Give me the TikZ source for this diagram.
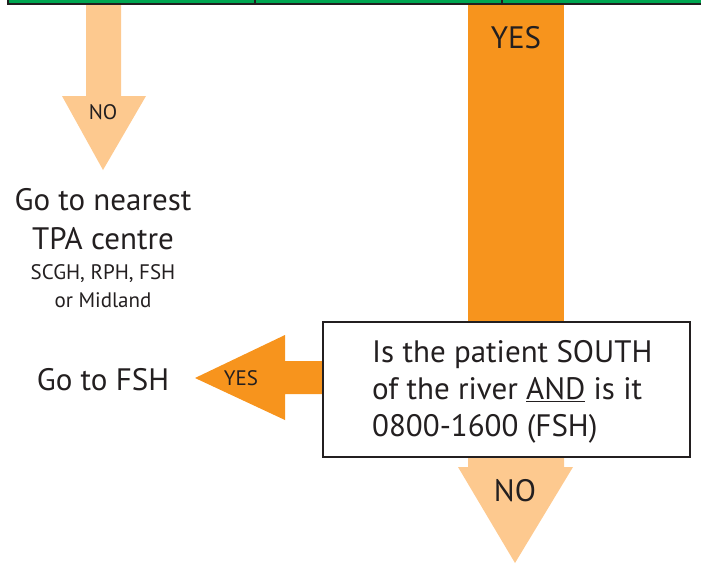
\documentclass[tikz,border=0pt]{standalone}
\usepackage{fontspec}
\setmainfont{PT Sans}
\usepackage{xcolor}
\usetikzlibrary{positioning}

\definecolor{tpagreen}{HTML}{00A651}
\definecolor{tpaorange}{HTML}{F7941D}
\definecolor{tpalight}{HTML}{FDC98F}
\definecolor{tpatext}{HTML}{231F20}

\begin{document}
\begin{tikzpicture}[x=1pt, y=-1pt,
        every node/.style = {inner sep=0pt, text=tpatext, anchor=base},
        bigtext/.style = {font=\fontsize{31}{37}\selectfont},
        smalltext/.style = {font=\fontsize{21}{28}\selectfont},
        qbox/.style = {shape=rectangle, draw=tpatext, line width=2pt,
        minimum width=367pt, minimum height=135pt, anchor=center}]
    \useasboundingbox (0,0) rectangle (701,563);
    % arrows first, boxes on top
    \fill[tpalight] (86,4) -- (121,4) -- (121,96) -- (146,96) -- (103,170)
        -- (62,96) -- (86,96) -- cycle;
    \fill[tpaorange] (468,4) rectangle (564,322);
    \fill[tpaorange] (323,361) -- (285,361) -- (285,335) -- (195,378)
        -- (285,420) -- (285,394) -- (323,394) -- cycle;
    \fill[tpalight] (468,457) -- (564,457) -- (564,467) -- (573,467)
        -- (515,563) -- (458,467) -- (468,467) -- cycle;
    % green bar at the top
    \fill[tpagreen] (8,-6) rectangle (701,4);
    \draw[tpatext, line width=1.2pt] (8,-6) -- (8,4) -- (701,4)
        (255,-6) -- (255,4) (502,-6) -- (502,4);
    % labels
    \node[smalltext] (leftno) at (103,119) {NO};
    \node[bigtext] (topyes) at (516,48) {YES};
    \node[bigtext] (nearest) at (103,210) {Go to nearest};
    \node[bigtext] (tpa) at (103,249) {TPA centre};
    \node[smalltext] (sites) at (103,279) {SCGH, RPH, FSH};
    \node[smalltext] (midland) at (103,307) {or Midland};
    \node[qbox] (question) at (506.5,389.5) {};
    \node[bigtext, anchor=base west] (qline1) at (372,362) {Is the patient SOUTH};
    \node[bigtext, anchor=base west] (qline2) at (372,399) {of the river \underline{AND} is it};
    \node[bigtext, anchor=base west] (qline3) at (372,436) {0800-1600 (FSH)};
    \node[smalltext] (leftyes) at (241,385) {YES};
    \node[bigtext] (fsh) at (103,390) {Go to FSH};
    \node[bigtext] (bottomno) at (515,501) {NO};
\end{tikzpicture}
\end{document}
